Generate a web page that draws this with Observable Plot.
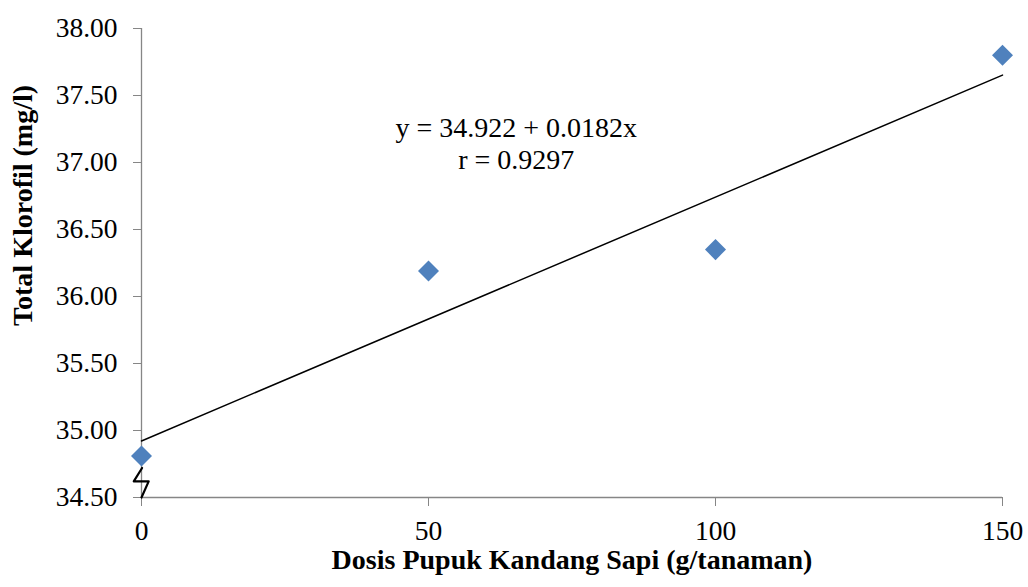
<!DOCTYPE html>
<html>
<head>
<meta charset="utf-8">
<script src="https://cdn.jsdelivr.net/npm/d3@7"></script>
<script src="https://cdn.jsdelivr.net/npm/@observablehq/plot@0.6"></script>
<style>
  html, body { margin: 0; padding: 0; background: #fff; }
  svg, svg text, svg g { font-family: "Liberation Serif", "Times New Roman", serif !important; font-variant: normal !important; }
</style>
</head>
<body>
<div id="chart"></div>
<script>
// Data
const dose = [0, 50, 100, 150];
const klorofil = [34.81, 36.19, 36.35, 37.80];
const xTicks = [0, 50, 100, 150];
const yTicks = [34.5, 35.0, 35.5, 36.0, 36.5, 37.0, 37.5, 38.0];
const intercept = 34.922;
const slope = 0.0182;
const trendX = [0, 150];
const equationLines = ["y = 34.922 + 0.0182x", "r = 0.9297"];
const xTitle = "Dosis Pupuk Kandang Sapi (g/tanaman)";
const yTitle = "Total Klorofil (mg/l)";
// axis-break zigzag (data units)
const breakX = [0.1, -1.35, 1.25, 0];
const breakY = [34.72, 34.62, 34.62, 34.5];

const points = dose.map((d, i) => ({x: d, y: klorofil[i]}));
const trend = trendX.map(x => ({x, y: intercept + slope * x}));
const zig = breakX.map((x, i) => ({x, y: breakY[i]}));

const serif = '"Liberation Serif", "Times New Roman", serif';
const tickFont = 27.5;
const textFont = 28;
const axisGray = "#868686";

const chart = Plot.plot({
  width: 1028,
  height: 587,
  marginLeft: 141,
  marginRight: 26,
  marginTop: 28,
  marginBottom: 90,
  style: {background: "#fff", overflow: "visible"},
  x: {domain: [0, 150]},
  y: {domain: [34.5, 38]},
  marks: [
    Plot.ruleX([0], {stroke: axisGray, strokeWidth: 1.3}),
    Plot.ruleY([34.5], {stroke: axisGray, strokeWidth: 1.3}),
    Plot.axisY(yTicks, {
      tickFormat: d3.format(".2f"), tickSize: 8, tickPadding: 16,
      fontSize: tickFont, fontFamily: serif, fontVariant: "normal",
      stroke: axisGray, fill: "black", label: null
    }),
    Plot.axisX(xTicks, {
      tickFormat: d3.format("d"), tickSize: 9, tickPadding: 14,
      fontSize: tickFont, fontFamily: serif, fontVariant: "normal",
      stroke: axisGray, fill: "black", label: null
    }),
    Plot.line(trend, {x: "x", y: "y", stroke: "black", strokeWidth: 1.5}),
    Plot.line(zig, {x: "x", y: "y", stroke: "black", strokeWidth: 2.2, clip: false}),
    Plot.dot(points, {x: "x", y: "y", symbol: "square", r: 8.4, rotate: 45, fill: "#4f81bd", stroke: "none"}),
    Plot.text([equationLines.join("\n")], {
      x: 65.3, y: 36.955, text: d => d, fontSize: textFont, fontFamily: serif, lineAnchor: "bottom",
      lineHeight: 1.14, fill: "black", textAnchor: "middle"
    }),
    Plot.text([xTitle], {frameAnchor: "bottom", dy: 71, lineAnchor: "bottom", text: d => d, fontSize: textFont, fontFamily: serif, fontWeight: "bold", fill: "black"}),
    Plot.text([yTitle], {x: -20.7, y: 36.679, rotate: -90, text: d => d, fontSize: textFont, fontFamily: serif, fontWeight: "bold", fill: "black", clip: false})
  ]
});
document.getElementById("chart").appendChild(chart);
</script>
</body>
</html>
